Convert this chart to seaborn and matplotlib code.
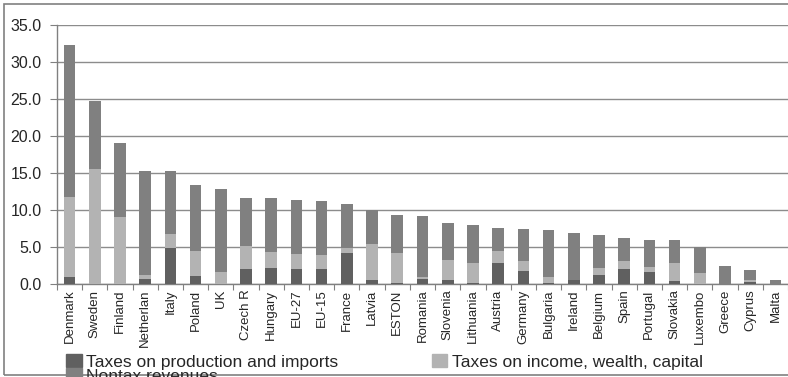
import matplotlib
matplotlib.use("Agg")
import matplotlib.pyplot as plt
from matplotlib.patches import Patch, Rectangle
import seaborn as sns
import pandas as pd
import numpy as np

countries = ["Denmark", "Sweden", "Finland", "Netherlan", "Italy", "Poland", "UK", "Czech R",
             "Hungary", "EU-27", "EU-15", "France", "Latvia", "ESTON", "Romania", "Slovenia",
             "Lithuania", "Austria", "Germany", "Bulgaria", "Ireland", "Belgium", "Spain",
             "Portugal", "Slovakia", "Luxembo", "Greece", "Cyprus", "Malta"]
production = [1.0, 0.0, 0.0, 0.7, 4.8, 1.1, 0.0, 2.05, 2.2, 2.05, 2.05, 4.25, 0.6, 0.2, 0.7, 0.6,
              0.2, 2.9, 1.8, 0.2, 0.6, 1.25, 2.05, 1.65, 0.45, 0.0, 0.0, 0.3, 0.0]
income = [10.8, 15.55, 9.1, 0.55, 2.0, 3.4, 1.65, 3.1, 2.15, 2.05, 1.9, 0.65, 4.85, 4.05, 0.3, 2.7,
          2.7, 1.6, 1.35, 0.8, 0.0, 0.95, 1.1, 0.7, 2.45, 1.5, 0.0, 0.3, 0.0]
nontax = [20.5, 9.15, 9.95, 14.05, 8.5, 8.9, 11.2, 6.5, 7.3, 7.3, 7.3, 5.95, 4.55, 5.1, 8.2, 5.0,
          5.1, 3.1, 4.3, 6.3, 6.3, 4.45, 3.1, 3.6, 3.05, 3.5, 2.45, 1.3, 0.6]
series_names = ["Taxes on production and imports", "Taxes on income, wealth, capital", "Nontax revenues"]

c_dark, c_light, c_mid = "#606060", "#b3b3b3", "#808080"

df = pd.DataFrame({"country": countries,
                   "prod": production,
                   "inc": income,
                   "non": nontax})
df["cum2"] = df["prod"] + df["inc"]
df["total"] = df["cum2"] + df["non"]

sns.set_theme(style="white")
plt.rcParams["font.family"] = ["Liberation Sans", "DejaVu Sans"]

fig = plt.figure(figsize=(7.88, 3.77), dpi=100)
ax = fig.add_axes([57/788, 1 - 284/377, 1 - 57/788, (284 - 25)/377])

w = 0.46
sns.barplot(data=df, x="country", y="total", order=countries, color=c_mid, width=w,
            saturation=1, ax=ax, linewidth=0, zorder=2)
sns.barplot(data=df, x="country", y="cum2", order=countries, color=c_light, width=w,
            saturation=1, ax=ax, linewidth=0, zorder=3)
sns.barplot(data=df, x="country", y="prod", order=countries, color=c_dark, width=w,
            saturation=1, ax=ax, linewidth=0, zorder=4)

ax.set_ylim(0, 35)
ax.set_xlim(-0.5, len(countries) - 0.5)
ax.set_yticks(np.arange(0, 36, 5))
ax.set_yticklabels([f"{v:.1f}" for v in np.arange(0, 36, 5)], fontsize=11.5)
ax.yaxis.grid(True, color="#8c8c8c", linewidth=1.0, zorder=0)
ax.set_axisbelow(True)
ax.set_xlabel("")
ax.set_ylabel("")

ax.set_xticks(range(len(countries)))
ax.set_xticklabels(countries, rotation=90, fontsize=9.5)
ax.tick_params(axis="x", length=0, pad=4)
ax.set_xticks(np.arange(-0.5, len(countries), 1), minor=True)
ax.tick_params(axis="x", which="minor", length=4, color="#808080", width=0.8, direction="out", bottom=True)
ax.tick_params(axis="y", length=5, color="#808080", width=0.8, direction="out", left=True, pad=6)

for s in ["top", "right"]:
    ax.spines[s].set_visible(False)
ax.spines["left"].set_color("#808080")
ax.spines["bottom"].set_color("#808080")
ax.spines["left"].set_linewidth(1.0)
ax.spines["bottom"].set_linewidth(1.0)

handles = [Patch(color=c_dark, label=series_names[0]),
           Patch(color=c_mid, label=series_names[2]),
           Patch(color=c_light, label=series_names[1])]
fig.legend(handles=handles, ncol=2, loc="upper left", bbox_to_anchor=(66/788, 1 - 354/377),
           frameon=False, fontsize=12.5, handlelength=0.9, handleheight=0.8, handletextpad=0.25,
           columnspacing=5.4, labelspacing=-0.1, borderpad=0, borderaxespad=0)

fig.patches.append(Rectangle((4/788, 1 - 375/377), 1.0, 371/377, transform=fig.transFigure,
                             fill=False, edgecolor="#808080", linewidth=1.2, zorder=0))

fig.savefig("out.png", dpi=100)
